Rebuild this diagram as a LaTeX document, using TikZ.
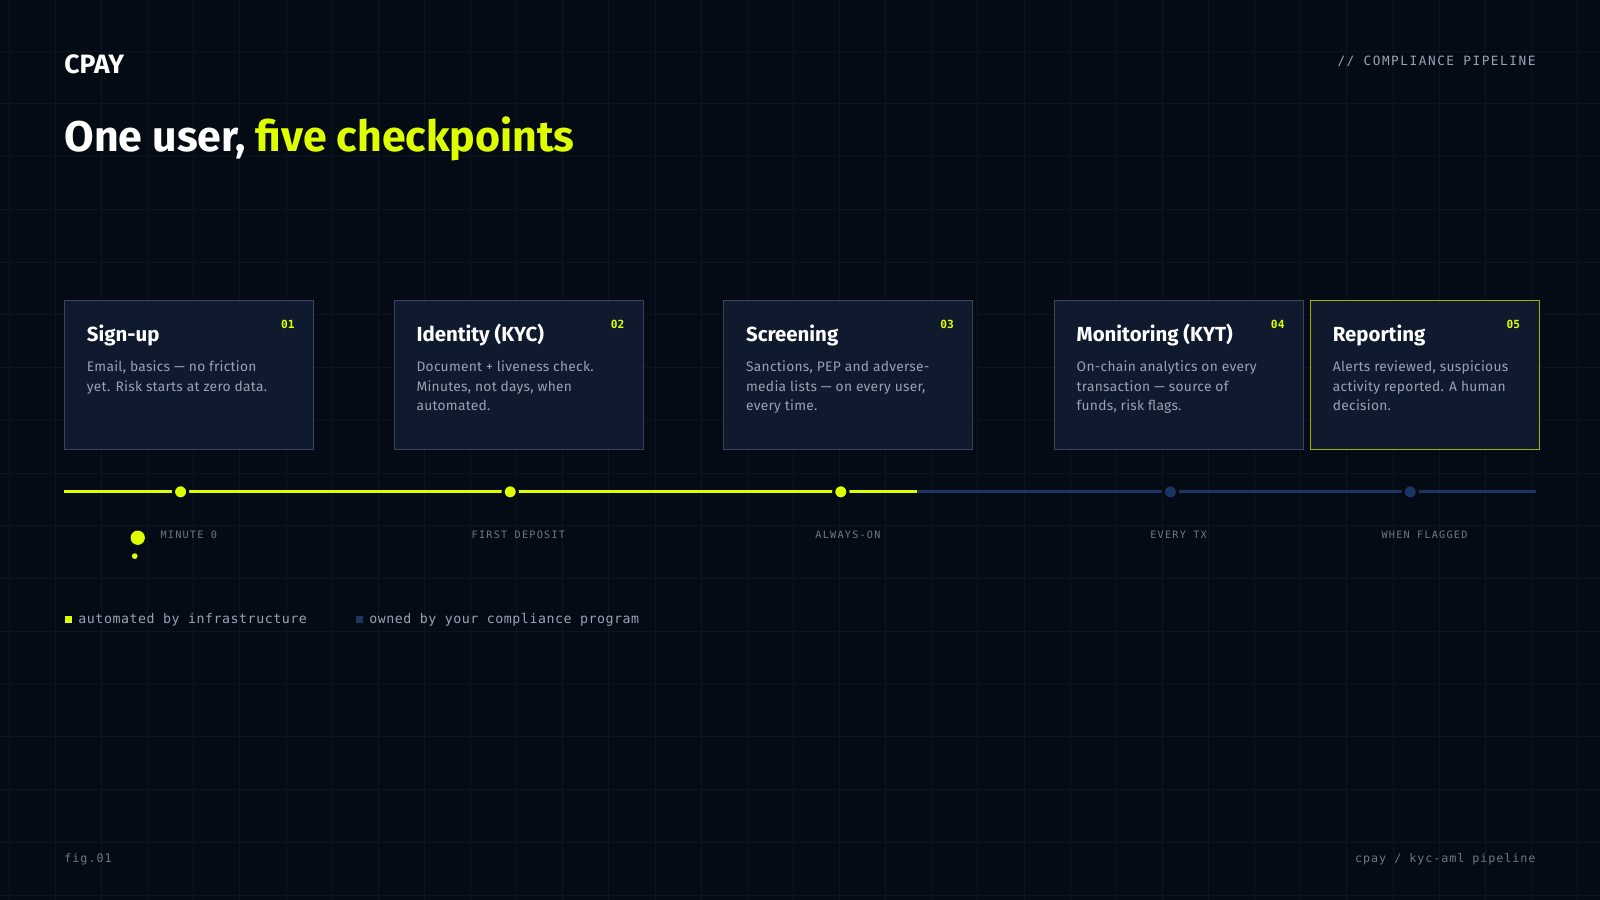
\documentclass[tikz,border=0pt]{standalone}
\usepackage{fontspec}
\setmainfont{Fira Sans}
\setmonofont{DejaVu Sans Mono}
\usetikzlibrary{positioning}
\definecolor{bgc}{HTML}{050B15}
\definecolor{gridc}{HTML}{0C1420}
\definecolor{cardc}{HTML}{0F1A2E}
\definecolor{cardline}{HTML}{3A4459}
\definecolor{lime}{HTML}{DDFF00}
\definecolor{olive}{HTML}{9DB300}
\definecolor{navy}{HTML}{1B3560}
\definecolor{greyt}{HTML}{9AA1B2}
\definecolor{dimt}{HTML}{6F7786}
\begin{document}
\begin{tikzpicture}[
    x=1pt, y=-1pt,
    card/.style={draw=cardline, fill=cardc, line width=0.8pt, minimum width=244pt, minimum height=146pt, anchor=north west},
    ctitle/.style={anchor=base west, inner sep=0pt, text=white, font=\fontsize{20}{24}\selectfont\bfseries},
    cnum/.style={anchor=base east, inner sep=0pt, text=lime, font=\fontsize{11}{13}\ttfamily\bfseries},
    cbody/.style={anchor=north west, text=greyt, align=left, inner sep=0pt, font=\fontsize{13.5}{19.5}\selectfont\addfontfeature{LetterSpace=2}},
    tick/.style={anchor=base, text=dimt, font=\fontsize{10}{12}\ttfamily\addfontfeature{LetterSpace=12}},
    stop/.style={circle, inner sep=0pt, minimum size=14pt, draw=bgc, line width=3pt},
  ]
  % background and grid
  \fill[bgc] (0,0) rectangle (1568,882);
  \useasboundingbox (0,0) rectangle (1568,882);
  \foreach \gx in {0,...,34}
    \draw[gridc, line width=0.6pt] ({9+45.2*\gx},0) -- ({9+45.2*\gx},882);
  \foreach \gy in {0,...,17}
    \draw[gridc, line width=0.6pt] (0,{-1.8+51.7*\gy}) -- (1568,{-1.8+51.7*\gy});

  % header
  \node[anchor=base west, inner sep=0pt, text=white, font=\fontsize{26}{30}\selectfont\bfseries] (logo) at (63,72) {CPAY};
  \node[anchor=base east, inner sep=0pt, text=greyt, font=\fontsize{12.5}{14}\ttfamily\addfontfeature{LetterSpace=12}] (tag) at (1505,64) {// COMPLIANCE PIPELINE};
  \node[anchor=base west, inner sep=0pt, text=white, font=\fontsize{42}{48}\selectfont\bfseries] (title) at (63,148) {One user, \textcolor{lime}{five checkpoints}};

  % cards
  \foreach \name/\cx/\t/\n/\b in {
      a/63/{Sign-up}/01/{Email, basics — no friction\\yet. Risk starts at zero data.},
      b/386/{Identity (KYC)}/02/{Document + liveness check.\\Minutes, not days, when\\automated.},
      c/709/{Screening}/03/{Sanctions, PEP and adverse-\\media lists — on every user,\\every time.},
      d/1033/{Monitoring (KYT)}/04/{On-chain analytics on every\\transaction — source of\\funds, risk flags.}} {
    \node[card] (card-\name) at (\cx,294) {};
    \node[ctitle] (tt-\name) at (\cx+22,335) {\t};
    \node[cnum] (nn-\name) at (\cx+226,322) {\n};
    \node[cbody] (bb-\name) at (\cx+22,353) {\b};
  }
  \node[card, draw=olive, minimum width=224pt] (card-e) at (1284,294) {};
  \node[ctitle] (tt-e) at (1306,335) {Reporting};
  \node[cnum] (nn-e) at (1490,322) {05};
  \node[cbody] (bb-e) at (1306,353) {Alerts reviewed, suspicious\\activity reported. A human\\decision.};

  % timeline
  \coordinate (t0) at (63,482);
  \coordinate (tm) at (899,482);
  \coordinate (t1) at (1505,482);
  \draw[lime, line width=3pt] (t0) -- (tm);
  \draw[navy, line width=3pt] (tm) -- (t1);
  \foreach \name/\sx/\col/\lab/\lx in {a/177/lime/MINUTE 0/185, b/500/lime/FIRST DEPOSIT/508,
      c/824/lime/ALWAYS-ON/831, d/1147/navy/EVERY TX/1155, e/1382/navy/WHEN FLAGGED/1396} {
    \node[stop, fill=\col] (stop-\name) at (\sx,482) {};
    \node[tick] (lab-\name) at (\lx,528) {\lab};
  }
  \fill[lime] (135,527) circle (7);
  \fill[lime] (132,545) circle (2.8);

  % legend
  \node[fill=lime, inner sep=0pt, minimum size=7pt] (key-a) at (67,607) {};
  \node[right=6pt of key-a, inner sep=0pt, text=greyt, font=\fontsize{13}{15}\ttfamily\addfontfeature{LetterSpace=4}] (lk-a) {automated by infrastructure};
  \node[fill=navy, inner sep=0pt, minimum size=7pt] (key-b) at (352,607) {};
  \node[right=6pt of key-b, inner sep=0pt, text=greyt, font=\fontsize{13}{15}\ttfamily\addfontfeature{LetterSpace=4}] (lk-b) {owned by your compliance program};

  % footer
  \node[anchor=base west, inner sep=0pt, text=dimt, font=\fontsize{11.5}{13}\ttfamily\addfontfeature{LetterSpace=8}] (fig) at (63,845) {fig.01};
  \node[anchor=base east, inner sep=0pt, text=dimt, font=\fontsize{11.5}{13}\ttfamily\addfontfeature{LetterSpace=8}] (foot) at (1505,845) {cpay / kyc-aml pipeline};
\end{tikzpicture}
\end{document}
